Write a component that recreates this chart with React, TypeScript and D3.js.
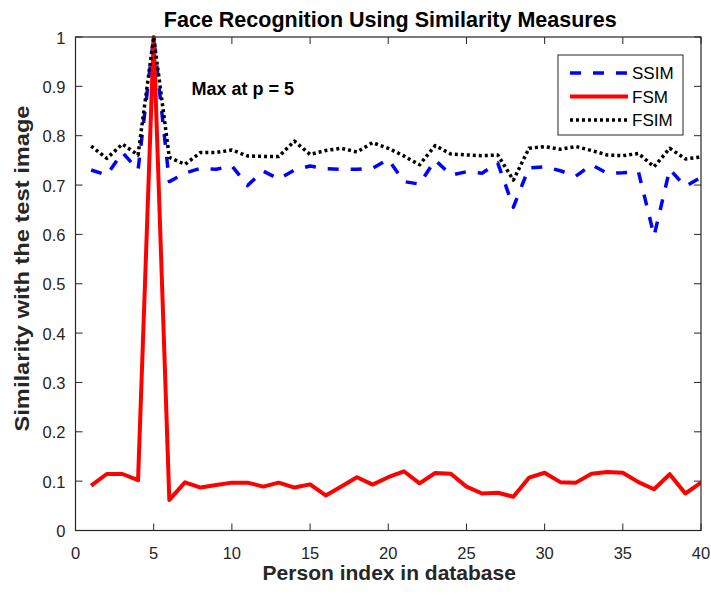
import React from "react";
import * as d3 from "d3";

const persons = d3.range(1, 41);
const ssim = [0.7305, 0.72, 0.766, 0.7305, 1.0, 0.707, 0.724, 0.734, 0.732, 0.739,
  0.699, 0.7285, 0.712, 0.7305, 0.7386, 0.733, 0.732, 0.732, 0.734, 0.752,
  0.707, 0.702, 0.751, 0.72, 0.727, 0.724, 0.745, 0.655, 0.735, 0.737,
  0.729, 0.718, 0.741, 0.724, 0.725, 0.727, 0.597, 0.732, 0.697, 0.716];
const fsm = [0.091, 0.1145, 0.1145, 0.102, 1.0, 0.062, 0.0976, 0.087, 0.092, 0.097,
  0.097, 0.089, 0.097, 0.087, 0.0935, 0.071, 0.089, 0.108, 0.093, 0.108,
  0.12, 0.0956, 0.1165, 0.115, 0.089, 0.075, 0.0766, 0.0685, 0.107, 0.117,
  0.098, 0.097, 0.115, 0.1185, 0.117, 0.098, 0.0835, 0.114, 0.075, 0.097];
const fsim = [0.779, 0.754, 0.783, 0.761, 1.0, 0.756, 0.742, 0.766, 0.766, 0.771,
  0.759, 0.758, 0.758, 0.789, 0.762, 0.77, 0.7745, 0.767, 0.786, 0.7745,
  0.759, 0.741, 0.78, 0.763, 0.761, 0.7595, 0.761, 0.71, 0.7745, 0.778,
  0.7725, 0.778, 0.77, 0.761, 0.7595, 0.764, 0.737, 0.7745, 0.753, 0.757];

const xTicks = [0, 5, 10, 15, 20, 25, 30, 35, 40];
const yTicks = [0, 0.1, 0.2, 0.3, 0.4, 0.5, 0.6, 0.7, 0.8, 0.9, 1];
const seriesNames = ["SSIM", "FSM", "FSIM"];

const W = 711, H = 595;
const L = 75.5, R = 701, T = 37, B = 530.5;
const axisColor = "#262626";
const font = "'Liberation Sans', Arial, Helvetica, sans-serif";

export default function App() {
  const x = d3.scaleLinear().domain([0, 40]).range([L, R]);
  const y = d3.scaleLinear().domain([0, 1]).range([B, T]);
  const line = d3.line<number>().x((_, i) => x(persons[i])).y((d) => y(d));
  const styles = [
    { color: "#0000ff", dash: "11,12", width: 3.5 },
    { color: "#ff0000", dash: "none", width: 4 },
    { color: "#000000", dash: "3,3", width: 3.5 },
  ];
  const data = [ssim, fsm, fsim];
  const tickLen = 7;
  return (
    <svg width={W} height={H} style={{ position: "absolute", left: 0, top: 0, background: "#fff" }} fontFamily={font}>
      <rect x={0} y={0} width={W} height={H} fill="#fff" />
      <defs>
        <clipPath id="plot">
          <rect x={L} y={T - 3} width={R - L} height={B - T + 3} />
        </clipPath>
      </defs>
      {xTicks.map((t) => (
        <g key={"x" + t}>
          <line x1={x(t)} x2={x(t)} y1={B} y2={B - tickLen} stroke={axisColor} strokeWidth={1} />
          <line x1={x(t)} x2={x(t)} y1={T} y2={T + tickLen} stroke={axisColor} strokeWidth={1} />
          <text x={x(t)} y={B + 28.5} textAnchor="middle" fontSize={16.5} fill={axisColor}>{t}</text>
        </g>
      ))}
      {yTicks.map((t) => (
        <g key={"y" + t}>
          <line x1={L} x2={L + tickLen} y1={y(t)} y2={y(t)} stroke={axisColor} strokeWidth={1} />
          <line x1={R} x2={R - tickLen} y1={y(t)} y2={y(t)} stroke={axisColor} strokeWidth={1} />
          <text x={L - 10} y={y(t) + 6.5} textAnchor="end" fontSize={16.5} fill={axisColor}>{String(t)}</text>
        </g>
      ))}
      <g clipPath="url(#plot)">
        {data.map((d, i) => (
          <path key={i} d={line(d) || ""} fill="none" stroke={styles[i].color}
            strokeWidth={styles[i].width} strokeDasharray={styles[i].dash} strokeLinejoin="round" />
        ))}
      </g>
      <rect x={L} y={T} width={R - L} height={B - T} fill="none" stroke={axisColor} strokeWidth={1.2} />
      <text x={(L + R) / 2 + 2} y={26.5} textAnchor="middle" fontSize={21.5} fontWeight="bold" fill="#000">
        Face Recognition Using Similarity Measures
      </text>
      <text x={(L + R) / 2 + 1} y={580} textAnchor="middle" fontSize={21} fontWeight="bold" fill={axisColor}>
        Person index in database
      </text>
      <text transform={`translate(29,268.5) rotate(-90)`} textAnchor="middle" fontSize={21} fontWeight="bold" fill={axisColor}
        textLength={326} lengthAdjust="spacingAndGlyphs">
        Similarity with the test image
      </text>
      <text x={191.5} y={95} fontSize={18} fontWeight="bold" fill="#000">Max at p = 5</text>
      <rect x={558} y={55} width={125} height={80} fill="#fff" stroke={axisColor} strokeWidth={1} />
      {seriesNames.map((n, i) => (
        <g key={n}>
          <line x1={570} x2={628} y1={73 + i * 23.5} y2={73 + i * 23.5} stroke={styles[i].color}
            strokeWidth={styles[i].width} strokeDasharray={styles[i].dash} />
          <text x={632} y={79 + i * 23.5} fontSize={17} fill="#000">{n}</text>
        </g>
      ))}
    </svg>
  );
}
